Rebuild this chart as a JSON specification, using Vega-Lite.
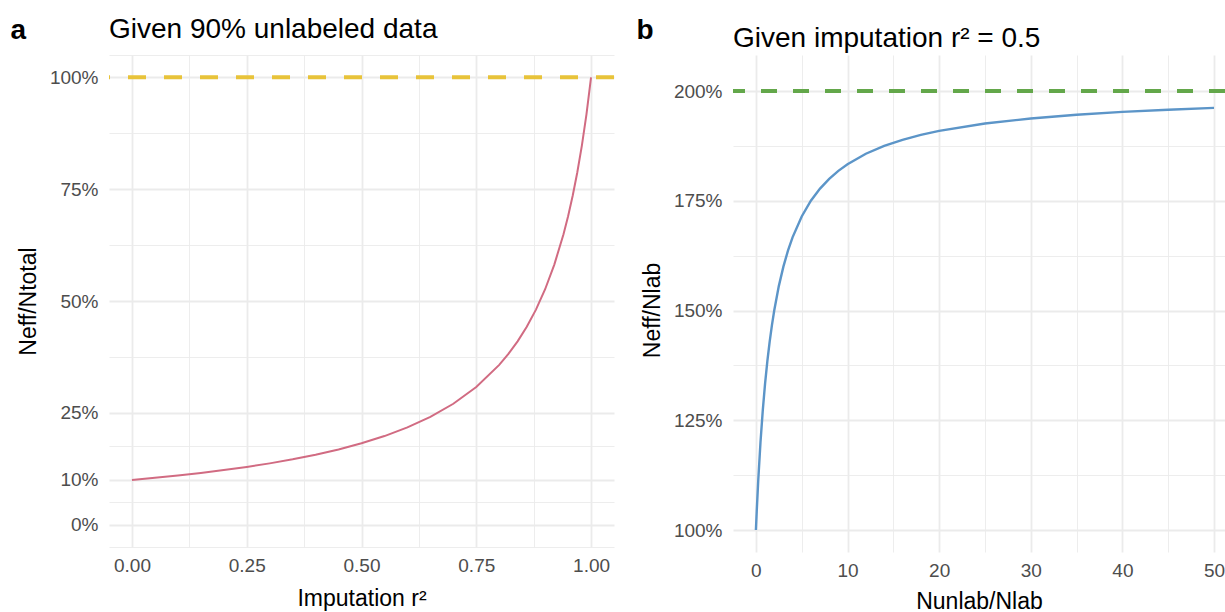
{
  "$schema": "https://vega.github.io/schema/vega-lite/v6.json",
  "background": "white",
  "padding": {"left": 10, "top": 16, "right": 0, "bottom": 0},
  "config": {
    "font": "Liberation Sans",
    "view": {"stroke": null},
    "axis": {
      "domain": false,
      "ticks": false,
      "labelColor": "#4D4D4D",
      "labelFontSize": 19,
      "labelFont": "Liberation Sans",
      "titleFont": "Liberation Sans",
      "titleFontSize": 23,
      "titleFontWeight": "normal",
      "titleColor": "#000000",
      "gridColor": "#EBEBEB",
      "labelOverlap": false,
      "labelFlush": false
    },
    "title": {"font": "Liberation Sans", "fontWeight": "normal", "fontSize": 28, "color": "#000000", "anchor": "start"}
  },
  "spacing": 20,
  "datasets": {
    "curveA": [
      {"r2": 0, "neff": 10},
      {"r2": 0.05, "neff": 10.471},
      {"r2": 0.1, "neff": 10.989},
      {"r2": 0.15, "neff": 11.561},
      {"r2": 0.2, "neff": 12.195},
      {"r2": 0.25, "neff": 12.903},
      {"r2": 0.3, "neff": 13.699},
      {"r2": 0.35, "neff": 14.599},
      {"r2": 0.4, "neff": 15.625},
      {"r2": 0.45, "neff": 16.807},
      {"r2": 0.5, "neff": 18.182},
      {"r2": 0.55, "neff": 19.802},
      {"r2": 0.6, "neff": 21.739},
      {"r2": 0.65, "neff": 24.096},
      {"r2": 0.7, "neff": 27.027},
      {"r2": 0.75, "neff": 30.769},
      {"r2": 0.8, "neff": 35.714},
      {"r2": 0.82, "neff": 38.168},
      {"r2": 0.84, "neff": 40.984},
      {"r2": 0.86, "neff": 44.248},
      {"r2": 0.88, "neff": 48.077},
      {"r2": 0.9, "neff": 52.632},
      {"r2": 0.92, "neff": 58.14},
      {"r2": 0.94, "neff": 64.935},
      {"r2": 0.95, "neff": 68.966},
      {"r2": 0.96, "neff": 73.529},
      {"r2": 0.97, "neff": 78.74},
      {"r2": 0.98, "neff": 84.746},
      {"r2": 0.99, "neff": 91.743},
      {"r2": 1, "neff": 100}
    ],
    "curveB": [
      {"k": 0, "neff": 100},
      {"k": 0.1, "neff": 104.76},
      {"k": 0.25, "neff": 111.11},
      {"k": 0.5, "neff": 120},
      {"k": 0.75, "neff": 127.27},
      {"k": 1, "neff": 133.33},
      {"k": 1.25, "neff": 138.46},
      {"k": 1.5, "neff": 142.86},
      {"k": 1.75, "neff": 146.67},
      {"k": 2, "neff": 150},
      {"k": 2.5, "neff": 155.56},
      {"k": 3, "neff": 160},
      {"k": 3.5, "neff": 163.64},
      {"k": 4, "neff": 166.67},
      {"k": 5, "neff": 171.43},
      {"k": 6, "neff": 175},
      {"k": 7, "neff": 177.78},
      {"k": 8, "neff": 180},
      {"k": 9, "neff": 181.82},
      {"k": 10, "neff": 183.33},
      {"k": 12, "neff": 185.71},
      {"k": 14, "neff": 187.5},
      {"k": 16, "neff": 188.89},
      {"k": 18, "neff": 190},
      {"k": 20, "neff": 190.91},
      {"k": 25, "neff": 192.59},
      {"k": 30, "neff": 193.75},
      {"k": 35, "neff": 194.59},
      {"k": 40, "neff": 195.24},
      {"k": 45, "neff": 195.74},
      {"k": 50, "neff": 196.15}
    ]
  },
  "hconcat": [
    {
      "width": 505,
      "height": 492,
      "title": {"text": "Given 90% unlabeled data", "frame": "group", "anchor": "start", "baseline": "alphabetic", "offset": -50},
      "resolve": {"axis": {"y": "independent"}},
      "layer": [
        {
          "data": {"name": "curveA"},
          "mark": {"type": "line", "color": "#D16B82", "strokeWidth": 2},
          "encoding": {
            "x": {
              "field": "r2", "type": "quantitative",
              "scale": {"domain": [-0.05, 1.05], "nice": false, "zero": false},
              "axis": {
                "title": "Imputation r²",
                "values": [0, 0.125, 0.25, 0.375, 0.5, 0.625, 0.75, 0.875, 1],
                "labelExpr": "indexof([0, 0.25, 0.5, 0.75, 1], datum.value) >= 0 ? format(datum.value, '.2f') : ''",
                "gridWidth": {"condition": {"test": "indexof([0, 0.25, 0.5, 0.75, 1], datum.value) >= 0", "value": 1.8}, "value": 0.9},
                "labelPadding": 9,
                "titlePadding": 12
              }
            },
            "y": {
              "field": "neff", "type": "quantitative",
              "scale": {"domain": [-5, 105], "nice": false, "zero": false},
              "axis": {
                "title": "Neff/Ntotal",
                "values": [-5, 0, 5, 10, 17.5, 25, 37.5, 50, 62.5, 75, 87.5, 100, 105],
                "labelExpr": "indexof([0, 10, 25, 50, 75, 100], datum.value) >= 0 ? datum.value + '%' : ''",
                "gridWidth": {"condition": {"test": "indexof([0, 10, 25, 50, 75, 100], datum.value) >= 0", "value": 1.8}, "value": 0.9},
                "labelPadding": 11,
                "titlePadding": 9
              }
            }
          }
        },
        {
          "data": {"values": [{"ref": 100}]},
          "mark": {"type": "rule", "color": "#E8C33A", "strokeWidth": 4, "strokeDash": [18, 18]},
          "encoding": {
            "y": {
              "field": "ref", "type": "quantitative",
              "axis": {"orient": "left", "labels": false, "grid": false, "title": "a", "titleAngle": 0, "titleX": -99, "titleY": -17, "titleAlign": "left", "titleBaseline": "alphabetic", "titleFontWeight": "bold", "titleFontSize": 28}
            }
          }
        }
      ]
    },
    {
      "width": 492,
      "height": 497,
      "title": {"text": "Given imputation r² = 0.5", "frame": "group", "anchor": "start", "baseline": "alphabetic", "offset": -59},
      "resolve": {"axis": {"y": "independent"}},
      "layer": [
        {
          "data": {"name": "curveB"},
          "mark": {"type": "line", "color": "#5C95C8", "strokeWidth": 2.4},
          "encoding": {
            "x": {
              "field": "k", "type": "quantitative",
              "scale": {"domain": [-2.5, 51.2], "nice": false, "zero": false},
              "axis": {
                "title": "Nunlab/Nlab",
                "values": [0, 5, 10, 15, 20, 25, 30, 35, 40, 45, 50],
                "labelExpr": "datum.value % 10 == 0 ? datum.value + '' : ''",
                "gridWidth": {"condition": {"test": "datum.value % 10 == 0", "value": 1.8}, "value": 0.9},
                "labelPadding": 9,
                "titlePadding": 10
              }
            },
            "y": {
              "field": "neff", "type": "quantitative",
              "scale": {"domain": [95, 208.2], "nice": false, "zero": false},
              "axis": {
                "title": "Neff/Nlab",
                "titleY": 255,
                "values": [100, 112.5, 125, 137.5, 150, 162.5, 175, 187.5, 200],
                "labelExpr": "datum.value % 25 == 0 ? datum.value + '%' : ''",
                "gridWidth": {"condition": {"test": "datum.value % 25 == 0", "value": 1.8}, "value": 0.9},
                "labelPadding": 11,
                "titlePadding": 9
              }
            }
          }
        },
        {
          "data": {"values": [{"ref": 200}]},
          "mark": {"type": "rule", "color": "#63A74A", "strokeWidth": 4, "strokeDash": [16, 16]},
          "encoding": {
            "y": {
              "field": "ref", "type": "quantitative",
              "axis": {"orient": "left", "labels": false, "grid": false, "title": "b", "titleAngle": 0, "titleX": -97, "titleY": -17, "titleAlign": "left", "titleBaseline": "alphabetic", "titleFontWeight": "bold", "titleFontSize": 28}
            }
          }
        }
      ]
    }
  ]
}
